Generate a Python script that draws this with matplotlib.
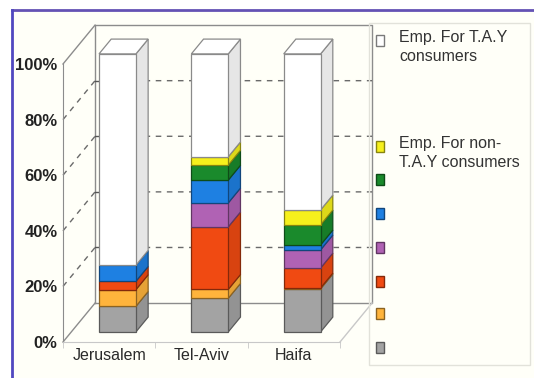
import numpy as np
import matplotlib.pyplot as plt
from matplotlib.patches import Polygon, Rectangle
from matplotlib.lines import Line2D
from matplotlib.colors import to_rgb

plt.rcParams['font.family'] = ['Liberation Sans', 'DejaVu Sans']

# data (percent of employees per city)
categories = ['Jerusalem', 'Tel-Aviv', 'Haifa']
gray_vals = [9.2, 12.1, 15.5]
orange_vals = [6.0, 3.2, 0.3]
red_vals = [3.0, 22.5, 7.2]
purple_vals = [0.0, 8.6, 6.5]
blue_vals = [5.8, 8.2, 1.8]
green_vals = [0.0, 5.4, 7.2]
yellow_vals = [0.0, 3.0, 5.4]
white_vals = [100 - sum(v) for v in zip(gray_vals, orange_vals, red_vals, purple_vals,
                                        blue_vals, green_vals, yellow_vals)]

series = [gray_vals, orange_vals, red_vals, purple_vals, blue_vals, green_vals, yellow_vals, white_vals]
colors = ['#a3a3a3', '#ffb43c', '#f04a12', '#b062b4', '#1e80e2', '#1a8a2c', '#f6f01c', '#ffffff']
labels = ['', '', '', '', '', '', 'Emp. For non-\nT.A.Y consumers', 'Emp. For T.A.Y\nconsumers']
yticks = [0, 20, 40, 60, 80, 100]


def shade(c, f):
    r, g, b = to_rgb(c)
    return (r * f, g * f, b * f)


W, H = 534, 378
fig = plt.figure(figsize=(W / 100, H / 100), dpi=100)
fig.patch.set_facecolor('white')

# frame of the screenshot
fig.add_artist(Rectangle((12 / W, 0), 1, (H - 10) / H, transform=fig.transFigure,
                         fc='#fffff8', ec='none', zorder=0))
fig.add_artist(Line2D([12 / W, 1], [1 - 10 / H, 1 - 10 / H], transform=fig.transFigure,
                      color='#6452b4', lw=2))
fig.add_artist(Line2D([12 / W, 12 / W], [0, 1 - 10 / H], transform=fig.transFigure,
                      color='#5048c0', lw=2))

ax = fig.add_axes([63 / W, 36 / H, 277 / W, 278 / H])
ax.set_xlim(-0.5, 2.5)
ax.set_ylim(0, 100)
ax.patch.set_visible(False)

DX, DY = 0.347, 14.0   # depth of the box in data units
T0, T1 = 0.26, 0.64    # depth range of the columns
BW = 0.4
n = len(categories)
x_lo, x_hi = -0.5, n - 0.5

wall = '#8c8c8c'
# back wall and side wall
ax.plot([x_lo + DX, x_lo + DX, x_hi + DX, x_hi + DX, x_lo + DX],
        [DY, 100 + DY, 100 + DY, DY, DY], color=wall, lw=1, clip_on=False, zorder=1)
ax.plot([x_lo, x_lo + DX], [100, 100 + DY], color=wall, lw=1, clip_on=False, zorder=1)
ax.plot([x_lo, x_lo + DX], [0, DY], color=wall, lw=1, clip_on=False, zorder=1)
ax.plot([x_hi, x_hi + DX], [0, DY], color='#c8c8c8', lw=1, clip_on=False, zorder=1)
# gridlines
for v in yticks[1:-1]:
    ax.plot([x_lo, x_lo + DX, x_hi + DX], [v, v + DY, v + DY], color='#6a6a6a', lw=1,
            ls=(0, (4, 4)), clip_on=False, zorder=1)
    ax.plot([x_lo + DX, x_lo + DX + 0.04], [v + DY, v + DY], color='#555555', lw=1,
            clip_on=False, zorder=1)

# columns
ox, oy = T0 * DX, T0 * DY
ddx, ddy = (T1 - T0) * DX, (T1 - T0) * DY
for i in range(n):
    x0 = i - BW / 2 + ox
    x1 = i + BW / 2 + ox
    base = oy
    for vals, c in zip(series, colors):
        h = vals[i]
        if h <= 0:
            continue
        y0, y1 = base, base + h
        ec = '#8a8a8a' if c == '#ffffff' else shade(c, 0.55)
        side = shade(c, 0.9)
        ax.add_patch(Polygon([(x1, y0), (x1 + ddx, y0 + ddy), (x1 + ddx, y1 + ddy), (x1, y1)],
                             closed=True, fc=side, ec=ec, lw=0.9, clip_on=False, zorder=3))
        ax.add_patch(Polygon([(x0, y0), (x1, y0), (x1, y1), (x0, y1)],
                             closed=True, fc=c, ec=ec, lw=0.9, clip_on=False, zorder=4))
        base = y1
    ax.add_patch(Polygon([(x0, base), (x1, base), (x1 + ddx, base + ddy), (x0 + ddx, base + ddy)],
                         closed=True, fc='white', ec='#8a8a8a', lw=0.9, clip_on=False, zorder=4))

for s in ['top', 'right']:
    ax.spines[s].set_visible(False)
ax.spines['left'].set_color(wall)
ax.spines['bottom'].set_color('#c8c8c8')

ax.set_yticks(yticks)
ax.set_yticklabels([f'{v}%' for v in yticks], fontsize=12, fontweight='bold', color='#222222')
ax.set_xticks(range(n))
ax.set_xticklabels(categories, fontsize=11.5, color='#2a2a2a')
ax.set_xticks(np.arange(n + 1) - 0.5, minor=True)
ax.tick_params(axis='y', length=0, pad=4)
ax.tick_params(axis='x', which='major', length=0, pad=4)
ax.tick_params(axis='x', which='minor', length=4, color='#c8c8c8')

# legend drawn by hand
fig.add_artist(Rectangle((369 / W, 1 - 365 / H), 161 / W, 342 / H, transform=fig.transFigure,
                         fc='none', ec='#e2e2da', lw=1))
leg_y = [40, 146, 180, 213, 247, 281, 313, 347]
for k, (c, lab) in enumerate(zip(colors[::-1], labels[::-1])):
    y = leg_y[k]
    ec = '#7a7a7a' if c == '#ffffff' else shade(c, 0.55)
    fig.add_artist(Rectangle((376 / W, 1 - (y + 5.5) / H), 8 / W, 11 / H,
                             transform=fig.transFigure, fc=c, ec=ec, lw=1))
    if lab:
        fig.text(399 / W, 1 - (y - 10) / H, lab, fontsize=11.5, color='#333333',
                 va='top', ha='left', linespacing=1.35)

fig.savefig('out.png', dpi=100)
